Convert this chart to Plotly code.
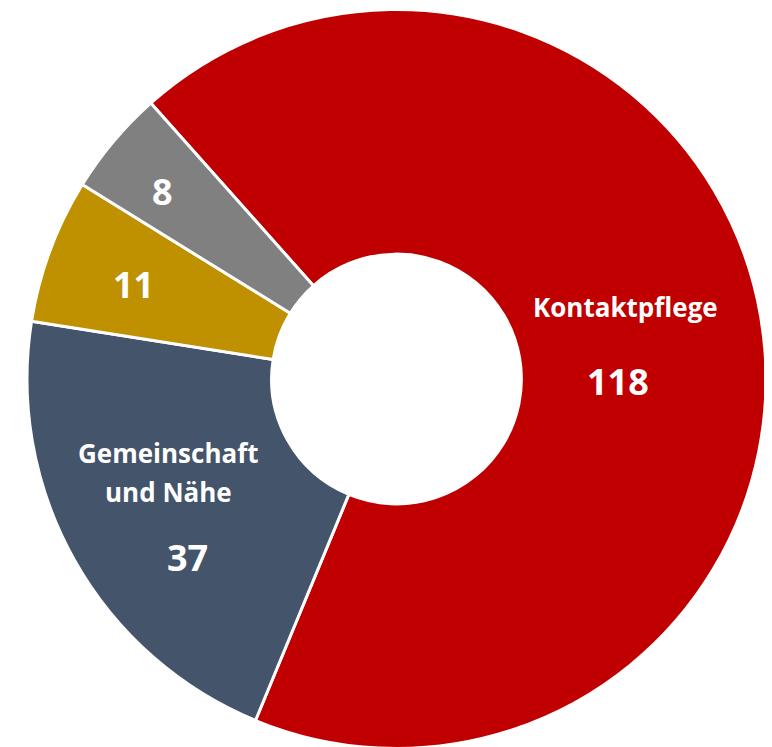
import plotly.graph_objects as go

categories = ["Kontaktpflege", "Gemeinschaft<br>und Nähe", "", ""]
values = [118, 37, 11, 8]
colors = ["#C00000", "#44546A", "#BF9000", "#808080"]

# page offset from the default body margin
OFF = 8
W, H = 772, 742
cx, cy, R = 396.5 - OFF, 379.0 - OFF, 369.5

fig = go.Figure(go.Pie(
    labels=["Kontaktpflege", "Gemeinschaft und Nähe", "Sonstiges A", "Sonstiges B"],
    values=values,
    marker=dict(colors=colors, line=dict(color="white", width=3)),
    hole=0.338,
    sort=False,
    direction="clockwise",
    rotation=-41.7,
    textinfo="none",
    hoverinfo="label+value",
    showlegend=False,
    domain=dict(x=[(cx - R) / W, (cx + R) / W], y=[0, 1]),
))

FONT = "'Open Sans', Lato, sans-serif"
label_pos = [(625, 307), (168, 453), None, None]
line_gap = 39
value_pos = [(618, 381), (187, 557), (133, 284), (162, 191)]


def px(x, y):
    return (x - OFF) / W, 1 - (y - OFF) / H


ann = []
for cat, pos in zip(categories, label_pos):
    if pos and cat:
        for i, line in enumerate(cat.split("<br>")):
            x, y = px(pos[0], pos[1] + i * line_gap)
            ann.append(dict(x=x, y=y, xref="paper", yref="paper",
                            text=f"<b>{line}</b>", showarrow=False,
                            font=dict(family=FONT, size=26, color="white"),
                            xanchor="center", yanchor="middle"))
for v, pos in zip(values, value_pos):
    x, y = px(*pos)
    ann.append(dict(x=x, y=y, xref="paper", yref="paper",
                    text=f"<b>{v}</b>", showarrow=False,
                    font=dict(family=FONT, size=36, color="white"),
                    xanchor="center", yanchor="middle"))

fig.update_layout(
    width=W, height=H,
    margin=dict(l=0, r=0, t=0, b=0),
    paper_bgcolor="white",
    plot_bgcolor="white",
    annotations=ann,
)

fig.write_html("out.html")
